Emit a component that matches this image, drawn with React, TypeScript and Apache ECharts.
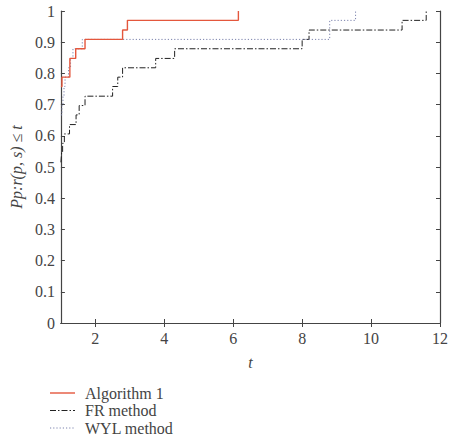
import React, { useEffect, useRef } from "react";
import * as echarts from "echarts";

// Performance profile steps: t thresholds and fraction of problems solved
const alg1T = [1, 1.03, 1.26, 1.43, 1.7, 2.79, 2.93, 6.15];
const alg1P = [0.758, 0.788, 0.848, 0.879, 0.909, 0.939, 0.97, 1];

const frT = [1, 1.02, 1.05, 1.1, 1.25, 1.44, 1.53, 1.7, 2.5, 2.65, 2.79, 3.75, 4.3, 8.0, 8.2, 10.9, 11.6];
const frP = [0.515, 0.545, 0.576, 0.606, 0.636, 0.667, 0.697, 0.727, 0.758, 0.788, 0.818, 0.848, 0.879, 0.909, 0.939, 0.97, 1];

const wylT = [1, 1.03, 1.06, 1.09, 1.12, 1.22, 1.28, 1.35, 1.62, 8.8, 9.55];
const wylP = [0.667, 0.697, 0.727, 0.758, 0.788, 0.818, 0.848, 0.879, 0.909, 0.97, 1];

const xTicks = [2, 4, 6, 8, 10, 12];
const seriesNames = ["Algorithm 1", "FR method", "WYL method"];

const FONT = "'Liberation Serif', 'DejaVu Serif', serif";
const TEXT = "#444";
const AXIS = "#444";

const COLORS = ["#e4573d", "#222", "#7b82ad"];
const DASHES: (number[] | null)[] = [null, [6, 2, 1.5, 2], [1.2, 2]];

const pairs = (xs: number[], ys: number[]) => xs.map((x, i) => [x, ys[i]]);

export default function App() {
  const ref = useRef<HTMLDivElement>(null);

  useEffect(() => {
    if (!ref.current) return;
    const chart = echarts.init(ref.current, null, { renderer: "svg" });
    const axisLine = { show: true, lineStyle: { color: AXIS, width: 1.2 } };

    // Vertical key under the plot: sample line + series name
    const legendItems: any[] = [];
    seriesNames.forEach((name, i) => {
      const y = 393 + i * 17.5;
      legendItems.push({
        type: "line",
        shape: { x1: 50, y1: y, x2: 75, y2: y },
        style: {
          stroke: COLORS[i],
          lineWidth: i === 0 ? 1.4 : 1,
          lineDash: DASHES[i] || undefined,
        },
      });
      legendItems.push({
        type: "text",
        x: 85,
        y,
        style: {
          text: name,
          fill: TEXT,
          font: `16px ${FONT}`,
          verticalAlign: "middle",
        },
      });
    });

    const mkSeries = (i: number, xs: number[], ys: number[]) => ({
      name: seriesNames[i],
      type: "line",
      step: "end",
      symbol: "none",
      data: pairs(xs, ys),
      itemStyle: { color: COLORS[i] },
      lineStyle: {
        color: COLORS[i],
        width: i === 0 ? 1.4 : 1,
        type: DASHES[i] || "solid",
      },
      z: [5, 3, 4][i],
    });

    chart.setOption({
      animation: false,
      backgroundColor: "#fff",
      textStyle: { fontFamily: FONT, color: TEXT },
      grid: { left: 49, right: 6, top: 11, bottom: 115 },
      graphic: legendItems,
      xAxis: [
        {
          type: "value",
          min: 1,
          max: 12,
          name: "t",
          nameLocation: "middle",
          nameGap: 31,
          nameTextStyle: { fontFamily: FONT, fontSize: 16, fontStyle: "italic", color: TEXT },
          axisLine,
          splitLine: { show: false },
          axisTick: { inside: true, length: 4, customValues: xTicks, lineStyle: { color: AXIS } },
          axisLabel: { customValues: xTicks, fontFamily: FONT, fontSize: 16, color: TEXT, margin: 7 },
        },
        {
          type: "value",
          position: "top",
          min: 1,
          max: 12,
          axisLine,
          splitLine: { show: false },
          axisTick: { inside: true, length: 4, customValues: xTicks, lineStyle: { color: AXIS } },
          axisLabel: { show: false },
        },
      ],
      yAxis: [
        {
          type: "value",
          min: 0,
          max: 1,
          interval: 0.1,
          name: "Pp:r(p, s) ≤ t",
          nameLocation: "middle",
          nameGap: 34,
          nameTextStyle: { fontFamily: FONT, fontSize: 16, fontStyle: "italic", color: TEXT },
          axisLine,
          splitLine: { show: false },
          axisTick: { inside: true, length: 4, lineStyle: { color: AXIS } },
          axisLabel: {
            fontFamily: FONT,
            fontSize: 16,
            color: TEXT,
            margin: 6,
            formatter: (v: number) => String(Math.round(v * 10) / 10),
          },
        },
        {
          type: "value",
          position: "right",
          min: 0,
          max: 1,
          interval: 0.1,
          axisLine,
          splitLine: { show: false },
          axisTick: { inside: true, length: 4, lineStyle: { color: AXIS } },
          axisLabel: { show: false },
        },
      ],
      series: [mkSeries(0, alg1T, alg1P), mkSeries(1, frT, frP), mkSeries(2, wylT, wylP)],
    });
    return () => chart.dispose();
  }, []);

  return (
    <div
      ref={ref}
      style={{ position: "fixed", left: 0, top: 0, width: 451, height: 438, background: "#fff" }}
    />
  );
}
